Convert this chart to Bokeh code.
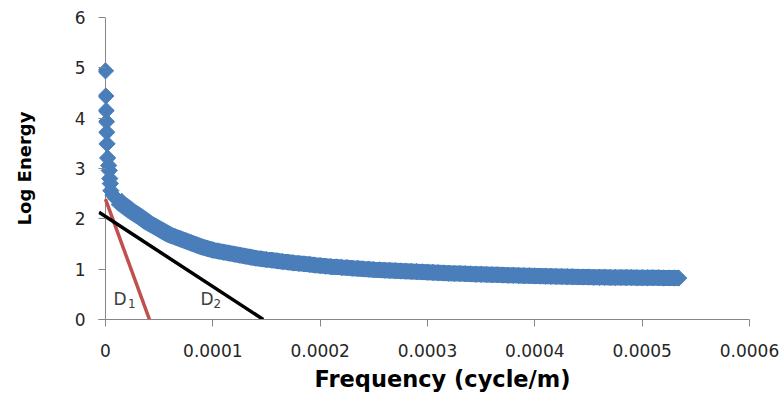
import math
from bokeh.plotting import figure
from bokeh.models import Range1d, FixedTicker, NumeralTickFormatter, Label, Span, Title
from bokeh.embed import file_html
from bokeh.resources import INLINE

# ---- data (frequency in 1e-6 cycle/m, log energy) ----
spike_freq_e6 = [0, 0.3, 0.6, 0.9, 1.2, 1.5, 2.0, 3.0, 3.5, 4.0, 4.5, 5.0, 7.0]
spike_energy = [4.94, 4.44, 4.15, 3.93, 3.72, 3.49, 3.21, 3.06, 2.96, 2.80, 2.70, 2.56, 2.47]

band_freq_e6 = [10, 15, 20, 25, 30, 35, 40, 45, 50, 55, 60, 65, 70, 75, 80, 85, 90, 95,
                100, 105, 110, 115, 120, 125, 130, 135, 140, 145, 150, 155, 160, 165,
                170, 175, 180, 185, 190, 195, 200, 205, 210, 215, 220, 225, 230, 235,
                240, 245, 250, 255, 260, 265, 270, 275, 280, 285, 290, 295, 300, 305,
                310, 315, 320, 325, 330, 335, 340, 345, 350, 355, 360, 365, 370, 375,
                380, 385, 390, 395, 400, 405, 410, 415, 420, 425, 430, 435, 440, 445,
                450, 455, 460, 465, 470, 475, 480, 485, 490, 495, 500, 505, 510, 515,
                520, 525, 530, 534]
band_energy = [2.40, 2.30, 2.22, 2.14, 2.07, 2.00, 1.92, 1.86, 1.80, 1.74, 1.68, 1.64,
               1.60, 1.56, 1.52, 1.48, 1.44, 1.41, 1.38, 1.36, 1.34, 1.32, 1.30, 1.28,
               1.26, 1.24, 1.22, 1.205, 1.19, 1.18, 1.165, 1.15, 1.14, 1.125, 1.115,
               1.105, 1.095, 1.08, 1.07, 1.06, 1.05, 1.045, 1.035, 1.03, 1.02, 1.015,
               1.005, 1.00, 0.99, 0.985, 0.98, 0.975, 0.97, 0.965, 0.96, 0.955, 0.95,
               0.945, 0.94, 0.935, 0.93, 0.925, 0.92, 0.915, 0.912, 0.908, 0.905, 0.90,
               0.897, 0.893, 0.89, 0.887, 0.884, 0.88, 0.877, 0.874, 0.871, 0.868,
               0.865, 0.862, 0.86, 0.857, 0.855, 0.852, 0.85, 0.848, 0.846, 0.844,
               0.842, 0.84, 0.839, 0.838, 0.836, 0.835, 0.834, 0.833, 0.832, 0.831,
               0.83, 0.829, 0.828, 0.827, 0.826, 0.825, 0.824, 0.823]

d1_freq = [0.0, 0.000041]
d1_energy = [2.39, 0.0]
d2_freq = [-0.000006, 0.000147]
d2_energy = [2.13, 0.0]

x_ticks = [0, 0.0001, 0.0002, 0.0003, 0.0004, 0.0005, 0.0006]
y_ticks = [0, 1, 2, 3, 4, 5, 6]

spike_freq = [f * 1e-6 for f in spike_freq_e6]
band_freq = [f * 1e-6 for f in band_freq_e6]

BLUE = "#4A7EBB"
RED = "#C0504D"
AXIS = "#868686"
TXT = "#262626"

p = figure(width=781, height=414, output_backend="svg", toolbar_location=None,
           x_range=Range1d(-0.0000065, 0.0006), y_range=Range1d(0, 6),
           min_border_left=98, min_border_right=32, min_border_top=17,
           min_border_bottom=95)
p.outline_line_color = None
p.grid.visible = False
p.background_fill_color = "white"
p.border_fill_color = "white"

# y axis
p.yaxis.ticker = FixedTicker(ticks=y_ticks)
p.yaxis.axis_line_color = None
p.yaxis.major_tick_in = 7
p.yaxis.major_tick_out = 0
p.yaxis.major_tick_line_color = AXIS
p.yaxis.minor_tick_line_color = None
p.yaxis.major_label_standoff = 13
p.yaxis.major_label_text_font = "DejaVu Sans"
p.yaxis.major_label_text_font_size = "17px"
p.yaxis.major_label_text_color = TXT
p.yaxis.axis_label = "Log Energy"
p.yaxis.axis_label_standoff = 37
p.yaxis.axis_label_text_font = "DejaVu Sans"
p.yaxis.axis_label_text_font_style = "bold"
p.yaxis.axis_label_text_font_size = "18px"
p.yaxis.axis_label_text_color = "black"

# x axis
p.xaxis.ticker = FixedTicker(ticks=x_ticks)
p.xaxis.formatter = NumeralTickFormatter(format="0.[0000]")
p.xaxis.axis_line_color = AXIS
p.xaxis.major_tick_in = 0
p.xaxis.major_tick_out = 7
p.xaxis.major_tick_line_color = AXIS
p.xaxis.minor_tick_line_color = None
p.xaxis.major_label_standoff = 17
p.xaxis.major_label_text_font = "DejaVu Sans"
p.xaxis.major_label_text_font_size = "17px"
p.xaxis.major_label_text_color = TXT

# x axis title
p.add_layout(Title(text="Frequency (cycle/m)", align="left", offset=216,
                   text_font="DejaVu Sans", text_font_style="bold",
                   text_font_size="22.5px", text_color="black", standoff=8), "below")

# y axis line at x = 0
p.add_layout(Span(location=0, dimension="height", line_color=AXIS, line_width=1,
                  level="underlay"))

# the dense band of diamonds
p.line(band_freq, band_energy, line_color=BLUE, line_width=16, line_join="round")
p.scatter(band_freq, band_energy, marker="square", angle=math.pi / 4, size=11.5,
          fill_color=BLUE, line_color=BLUE)
p.scatter(spike_freq, spike_energy, marker="square", angle=math.pi / 4, size=11.5,
          fill_color=BLUE, line_color=BLUE)
p.line(d1_freq, d1_energy, line_color=RED, line_width=3.5)
p.line(d2_freq, d2_energy, line_color="black", line_width=3.5)

# D labels
for txt, xx, yy, fs in [("D", 0.0000075, 0.40, "17px"), ("1", 0.000021, 0.31, "12px"),
                        ("D", 0.0000885, 0.40, "17px"), ("2", 0.0001006, 0.31, "12px")]:
    p.add_layout(Label(x=xx, y=yy, text=txt, text_font="DejaVu Sans",
                       text_font_size=fs, text_color="#404040",
                       text_align="left", text_baseline="middle"))

open("out.html", "w").write(file_html(p, INLINE))
